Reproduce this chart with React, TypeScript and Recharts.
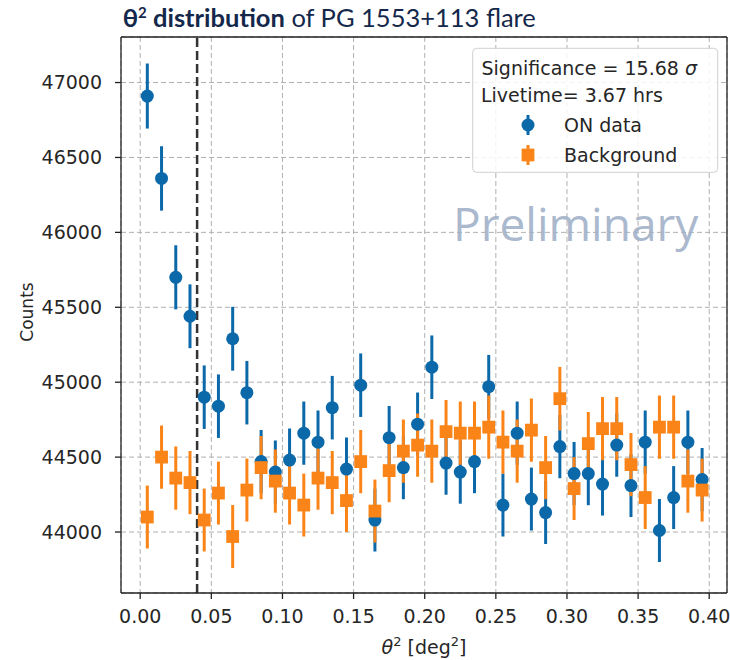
import React from 'react';
import { ScatterChart, Scatter, XAxis, YAxis, CartesianGrid, ErrorBar, ReferenceLine } from 'recharts';

// theta^2 bin centres
const thetaSq = [
  0.005, 0.015, 0.025, 0.035, 0.045, 0.055, 0.065, 0.075, 0.085, 0.095,
  0.105, 0.115, 0.125, 0.135, 0.145, 0.155, 0.165, 0.175, 0.185, 0.195,
  0.205, 0.215, 0.225, 0.235, 0.245, 0.255, 0.265, 0.275, 0.285, 0.295,
  0.305, 0.315, 0.325, 0.335, 0.345, 0.355, 0.365, 0.375, 0.385, 0.395,
];

const onCounts = [
  46910, 46360, 45700, 45440, 44900, 44840, 45290, 44930, 44470, 44400,
  44480, 44660, 44600, 44830, 44420, 44980, 44080, 44630, 44430, 44720,
  45100, 44460, 44400, 44470, 44970, 44180, 44660, 44220, 44130, 44570,
  44390, 44390, 44320, 44580, 44310, 44600, 44010, 44230, 44600, 44350,
];
const onErr = [
  217, 215, 214, 213, 212, 212, 213, 212, 211, 211,
  211, 211, 211, 212, 211, 212, 210, 211, 211, 211,
  212, 211, 211, 211, 212, 210, 211, 210, 210, 211,
  211, 211, 210, 211, 210, 211, 210, 210, 211, 211,
];

const bgCounts = [
  44100, 44500, 44360, 44330, 44080, 44260, 43970, 44280, 44430, 44340,
  44260, 44180, 44360, 44330, 44210, 44470, 44140, 44410, 44540, 44580,
  44540, 44670, 44660, 44660, 44700, 44600, 44540, 44680, 44430, 44890,
  44290, 44590, 44690, 44690, 44450, 44230, 44700, 44700, 44340, 44280,
];
const bgErr = [
  210, 211, 211, 211, 210, 210, 210, 210, 211, 211,
  210, 210, 211, 211, 210, 211, 210, 211, 211, 211,
  211, 211, 211, 211, 211, 211, 211, 211, 211, 212,
  210, 211, 211, 211, 211, 210, 211, 211, 211, 210,
];

const xTicks = [0, 0.05, 0.1, 0.15, 0.2, 0.25, 0.3, 0.35, 0.4];
const yTicks = [44000, 44500, 45000, 45500, 46000, 46500, 47000];

const BLUE = '#0b68a9';
const ORANGE = '#fb8419';
const AXIS = '#222';
const X_DOMAIN = [-0.0135, 0.4125];
const Y_DOMAIN = [43593, 47304];

const onData = thetaSq.map((x, i) => ({ x, y: onCounts[i], err: onErr[i] }));
const bgData = thetaSq.map((x, i) => ({ x, y: bgCounts[i], err: bgErr[i] }));

const tickFont = { fontFamily: 'DejaVu Sans', fontSize: 19, fill: '#262626' };

const OnDot = (p: any) => <circle cx={p.cx} cy={p.cy} r={6.5} fill={BLUE} />;
const BgSquare = (p: any) => <rect x={p.cx - 6.4} y={p.cy - 6.4} width={12.8} height={12.8} fill={ORANGE} />;

export default function App() {
  return (
    <div style={{ position: 'absolute', left: 0, top: 0, width: 730, height: 660, background: '#fff' }}>
      <ScatterChart width={730} height={660} margin={{ top: 36, right: 2, bottom: 66, left: 120 }}>
        <CartesianGrid stroke="#b0b0b0" strokeDasharray="5 3" strokeWidth={1} />
        <XAxis
          type="number"
          dataKey="x"
          domain={X_DOMAIN}
          ticks={xTicks}
          allowDataOverflow
          height={1}
          tickSize={6}
          tickMargin={11}
          tickFormatter={(v: number) => v.toFixed(2)}
          tick={tickFont}
          axisLine={{ stroke: AXIS, strokeWidth: 1.3 }}
          tickLine={{ stroke: AXIS, strokeWidth: 1.3 }}
        />
        <XAxis
          xAxisId="top"
          orientation="top"
          type="number"
          domain={X_DOMAIN}
          allowDataOverflow
          height={1}
          tick={false}
          tickLine={false}
          axisLine={{ stroke: AXIS, strokeWidth: 1.3 }}
        />
        <YAxis
          type="number"
          dataKey="y"
          domain={Y_DOMAIN}
          ticks={yTicks}
          allowDataOverflow
          width={1}
          tickSize={6}
          tickMargin={13}
          tick={tickFont}
          axisLine={{ stroke: AXIS, strokeWidth: 1.3 }}
          tickLine={{ stroke: AXIS, strokeWidth: 1.3 }}
        />
        <YAxis
          yAxisId="right"
          orientation="right"
          type="number"
          domain={Y_DOMAIN}
          allowDataOverflow
          width={1}
          tick={false}
          tickLine={false}
          axisLine={{ stroke: AXIS, strokeWidth: 1.3 }}
        />
        <ReferenceLine x={0.04} stroke="#333" strokeWidth={2.5} strokeDasharray="9 4" />
        <Scatter name="ON data" data={onData} shape={OnDot} isAnimationActive={false}>
          <ErrorBar dataKey="err" direction="y" width={0} stroke={BLUE} strokeWidth={3} isAnimationActive={false} />
        </Scatter>
        <Scatter name="Background" data={bgData} shape={BgSquare} isAnimationActive={false}>
          <ErrorBar dataKey="err" direction="y" width={0} stroke={ORANGE} strokeWidth={3} isAnimationActive={false} />
        </Scatter>
      </ScatterChart>

      <svg width={730} height={660} style={{ position: 'absolute', left: 0, top: 0, pointerEvents: 'none' }}>
        {/* title */}
        <text x={122.7} y={26.7} fontFamily="Lato" fontSize={25.5} fill="#14284b">
          <tspan fontWeight="bold">θ</tspan>
          <tspan fontWeight="bold" fontSize={15} dy={-9}>2</tspan>
          <tspan fontWeight="bold" dy={9}> distribution</tspan>
          <tspan> of PG 1553+113 flare</tspan>
        </text>

        {/* watermark */}
        <text x={453} y={241} fontFamily="Open Sans" fontSize={46} fill="#9fb0c8" fillOpacity={0.9}>
          Preliminary
        </text>

        {/* legend */}
        <rect x={472.7} y={48.3} width={245} height={124} rx={4} fill="#fff" fillOpacity={0.85} stroke="#d0d0d0" />
        <text x={481.5} y={75} fontFamily="DejaVu Sans" fontSize={19} fill="#262626">
          Significance = 15.68 <tspan fontStyle="italic">σ</tspan>
        </text>
        <text x={481} y={101.7} fontFamily="DejaVu Sans" fontSize={19} fill="#262626">
          Livetime= 3.67 hrs
        </text>
        <line x1={528} x2={528} y1={115} y2={135} stroke={BLUE} strokeWidth={3} />
        <circle cx={528} cy={125} r={6.5} fill={BLUE} />
        <text x={564} y={131.7} fontFamily="DejaVu Sans" fontSize={19} fill="#262626">ON data</text>
        <line x1={528} x2={528} y1={145} y2={165} stroke={ORANGE} strokeWidth={3} />
        <rect x={521.6} y={148.6} width={12.8} height={12.8} fill={ORANGE} />
        <text x={564} y={161.7} fontFamily="DejaVu Sans" fontSize={19} fill="#262626">Background</text>

        {/* axis labels */}
        <text x={33} y={312} transform="rotate(-90 33 312)" textAnchor="middle" fontFamily="DejaVu Sans" fontSize={17} fill="#262626">
          Counts
        </text>
        <text x={424} y={654} textAnchor="middle" fontFamily="DejaVu Sans" fontSize={19} fill="#262626">
          <tspan fontStyle="italic">θ</tspan>
          <tspan fontSize={13} dy={-8}>2</tspan>
          <tspan dy={8}> [deg</tspan>
          <tspan fontSize={13} dy={-8}>2</tspan>
          <tspan dy={8}>]</tspan>
        </text>
      </svg>
    </div>
  );
}
